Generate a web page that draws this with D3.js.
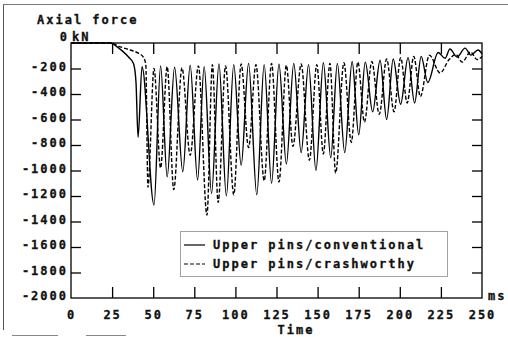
<!DOCTYPE html>
<html>
<head>
<meta charset="utf-8">
<script src="https://cdn.jsdelivr.net/npm/d3@7"></script>
<style>
  html, body { margin: 0; padding: 0; background: #fff; }
  svg { display: block; }
  text { font-family: 'DejaVu Sans Mono', 'Liberation Mono', monospace; font-weight: bold; font-size: 12px; letter-spacing: 2px; fill: #111; stroke: #111; stroke-width: 0.3px; }
</style>
</head>
<body>
<script>
// Axial force in the upper pins, conventional vs crashworthy design (kN over ms)
const xTicks = [0, 25, 50, 75, 100, 125, 150, 175, 200, 225, 250];
const yTicks = [0, -200, -400, -600, -800, -1000, -1200, -1400, -1600, -1800, -2000];

const convTime = [0, 24, 27, 31, 35, 38, 39.5, 40.8, 43.2, 50.5,
  54.5, 58.5, 63, 68, 72.5, 77, 81, 85.5, 90, 94.5,
  99, 103.5, 108, 113, 117.5, 122, 126.5, 131, 135.5, 140,
  144.5, 149, 153.5, 158, 162, 166.5, 171, 175, 179, 183.5,
  188, 192, 196, 200.5, 205, 209, 213, 217, 223.3, 227.5,
  230.5, 234.8, 239.7, 243.3, 247.6, 250];
const convForce = [0, 0, -20, -60, -110, -160, -300, -740, -185, -1270,
  -180, -1050, -190, -1010, -175, -1075, -185, -1180, -165, -1200,
  -170, -960, -160, -1190, -170, -1100, -165, -950, -160, -860,
  -170, -1000, -155, -900, -160, -860, -145, -720, -150, -540,
  -135, -600, -125, -480, -115, -470, -105, -310, -75, -120,
  -47, -110, -40, -95, -55, -85];

const crashTime = [0, 24, 30, 36, 41, 44, 45.5, 46.8, 50.5, 54.5,
  58.5, 62.5, 67.5, 72.5, 77.5, 82.7, 86, 89.5, 94, 99,
  103.5, 108, 112.5, 117.5, 122, 126.5, 131, 135, 140, 145,
  149.5, 153.5, 157.5, 161, 166, 170.5, 174.5, 178.5, 183, 187.5,
  192, 196.5, 200.5, 204.5, 208.5, 212.5, 218, 224.5, 230, 234,
  238, 243, 247, 250];
const crashForce = [0, 0, -30, -55, -80, -110, -170, -1130, -200, -980,
  -185, -1150, -195, -880, -180, -1350, -170, -1250, -180, -1190,
  -165, -820, -170, -1080, -160, -1090, -175, -810, -165, -920,
  -170, -870, -160, -1020, -155, -780, -150, -620, -145, -560,
  -125, -540, -115, -470, -105, -420, -95, -235, -130, -90,
  -150, -70, -130, -105];

const seriesNames = ["Upper pins/conventional", "Upper pins/crashworthy"];

const W = 508, H = 337;
const svg = d3.select("body").append("svg").attr("width", W).attr("height", H);

const x = d3.scaleLinear().domain([0, 250]).range([71, 482]);
const y = d3.scaleLinear().domain([-2000, 0]).range([298, 43]);

// outer page border (left and top edges, broken bottom edge)
svg.append("line").attr("x1", 3.5).attr("x2", 3.5).attr("y1", 4).attr("y2", 330)
  .attr("stroke", "#555").attr("stroke-width", 1);
svg.append("line").attr("x1", 3).attr("x2", W).attr("y1", 4.5).attr("y2", 4.5)
  .attr("stroke", "#777").attr("stroke-width", 1);
[[12, 58], [86, 126]].forEach(([a, b]) => {
  svg.append("line").attr("x1", a).attr("x2", b).attr("y1", 335.5).attr("y2", 335.5)
    .attr("stroke", "#888").attr("stroke-width", 1);
});

// plot frame
svg.append("rect")
  .attr("x", x(0)).attr("y", y(0))
  .attr("width", x(250) - x(0)).attr("height", y(-2000) - y(0))
  .attr("fill", "none").attr("stroke", "#000").attr("stroke-width", 1.3);

function styleAxis(g) {
  g.attr("font-family", null).attr("font-size", null);
  g.select(".domain").remove();
  g.selectAll(".tick line").attr("stroke", "#000").attr("stroke-width", 1.3);
}

// bottom axis: inward ticks + labels
const gx = svg.append("g").attr("transform", `translate(0,${y(-2000)})`)
  .call(d3.axisBottom(x).tickValues(xTicks).tickSize(-11).tickPadding(12).tickFormat(d3.format("d")))
  .call(styleAxis);
gx.selectAll(".tick line").filter(d => d === 0 || d === 250).remove();

// top axis: inward ticks only
svg.append("g").attr("transform", `translate(0,${y(0)})`)
  .call(d3.axisTop(x).tickValues(xTicks.slice(1, -1)).tickSize(-11).tickFormat(""))
  .call(styleAxis);

// left axis: inward ticks + labels
const gy = svg.append("g").attr("transform", `translate(${x(0)},0)`)
  .call(d3.axisLeft(y).tickValues(yTicks).tickSize(-10).tickPadding(3)
    .tickFormat(d => d === 0 ? "" : String(d)))
  .call(styleAxis);
gy.selectAll(".tick line").filter(d => d === 0 || d === -2000).remove();
gy.selectAll(".tick text").attr("dy", "0.15em");

// right axis: inward ticks
svg.append("g").attr("transform", `translate(${x(250)},0)`)
  .call(d3.axisRight(y).tickValues(yTicks.slice(1, -1)).tickSize(-10).tickFormat(""))
  .call(styleAxis);

// zero label with unit
svg.append("text").attr("x", x(0) - 2).attr("y", y(0) - 2).attr("text-anchor", "end").text("0");
svg.append("text").attr("x", x(0) + 1).attr("y", y(0) - 2).attr("letter-spacing", "1px").text("kN");

// titles
svg.append("text").attr("x", 37).attr("y", 24).text("Axial force");
svg.append("text").attr("x", 296).attr("y", 334).attr("text-anchor", "middle").text("Time");
svg.append("text").attr("x", 488).attr("y", 300).attr("letter-spacing", "1px").text("ms");

// curves
const line = d3.line().x(d => x(d[0])).y(d => y(d[1])).curve(d3.curveMonotoneX);
const conv = convTime.map((t, i) => [t, convForce[i]]);
const crash = crashTime.map((t, i) => [t, crashForce[i]]);

svg.append("path").datum(crash).attr("d", line)
  .attr("fill", "none").attr("stroke", "#000").attr("stroke-width", 1.4)
  .attr("stroke-dasharray", "4,2");
svg.append("path").datum(conv).attr("d", line)
  .attr("fill", "none").attr("stroke", "#000").attr("stroke-width", 1.4);

// legend
const lg = svg.append("g");
lg.append("rect").attr("x", 180.5).attr("y", 231.5).attr("width", 267).attr("height", 45)
  .attr("fill", "#fff").attr("stroke", "#444").attr("stroke-width", 1)
  .attr("stroke-dasharray", "1,1");
const legendRows = [
  { name: seriesNames[0], dash: null, yy: 245 },
  { name: seriesNames[1], dash: "4,2", yy: 264 }
];
legendRows.forEach(r => {
  lg.append("line").attr("x1", 184).attr("x2", 205).attr("y1", r.yy).attr("y2", r.yy)
    .attr("stroke", "#000").attr("stroke-width", 1.2).attr("stroke-dasharray", r.dash);
  lg.append("text").attr("x", 213).attr("y", r.yy + 4).text(r.name);
});
</script>
</body>
</html>
